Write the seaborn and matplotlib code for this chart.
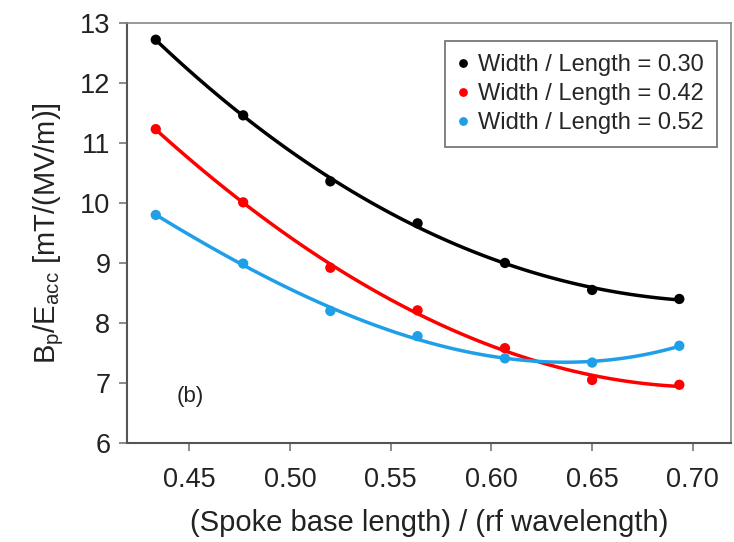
import numpy as np
import pandas as pd
import matplotlib
matplotlib.use("Agg")
import matplotlib.pyplot as plt
import seaborn as sns

# Spoke base length / rf wavelength
ratio = [0.4333, 0.4767, 0.5200, 0.5633, 0.6067, 0.6500, 0.6933]
# Bp/Eacc for each width/length ratio
bp_030 = [12.72, 11.46, 10.36, 9.66, 9.00, 8.55, 8.40]
bp_042 = [11.23, 10.01, 8.92, 8.21, 7.58, 7.05, 6.97]
bp_052 = [9.80, 8.99, 8.20, 7.78, 7.41, 7.34, 7.62]
labels = ["Width / Length = 0.30", "Width / Length = 0.42", "Width / Length = 0.52"]
colors = ["#000000", "#ff0000", "#1e9fe8"]

df = pd.DataFrame({
    "ratio": ratio * 3,
    "bp": bp_030 + bp_042 + bp_052,
    "series": [labels[0]] * 7 + [labels[1]] * 7 + [labels[2]] * 7,
})

sns.set_style("white")
plt.rcParams["font.family"] = ["Liberation Sans", "DejaVu Sans"]

fig = plt.figure(figsize=(7.34, 5.42), dpi=100)
ax = fig.add_axes([0.173, 0.1827, 0.823, 0.775])

# fitted curves
for lab, col in zip(labels, colors):
    sub = df[df["series"] == lab]
    sns.regplot(data=sub, x="ratio", y="bp", order=3, ci=None, scatter=False,
                color=col, line_kws={"lw": 2.5}, ax=ax)

sns.scatterplot(data=df, x="ratio", y="bp", hue="series", palette=colors,
                s=55, edgecolor="none", zorder=3, ax=ax)

ax.set_xlim(0.419, 0.719)
ax.set_ylim(6, 13)
ax.set_xticks([0.45, 0.50, 0.55, 0.60, 0.65, 0.70])
ax.set_xticklabels(["0.45", "0.50", "0.55", "0.60", "0.65", "0.70"])
ax.set_yticks(range(6, 14))

for side in ["left", "bottom"]:
    ax.spines[side].set_color("#555555")
    ax.spines[side].set_linewidth(1.5)
for side in ["top", "right"]:
    ax.spines[side].set_color("#888888")
    ax.spines[side].set_linewidth(1.2)

ax.tick_params(axis="both", direction="out", length=6, width=1.2, color="#777777",
               labelsize=19.5, labelcolor="#222222", pad=6)
ax.tick_params(axis="x", pad=11)
ax.tick_params(left=True, bottom=True)

ax.set_xlabel("(Spoke base length) / (rf wavelength)", fontsize=21, color="#222222", labelpad=12)
ax.set_ylabel(r"$\mathregular{B_p/E_{acc}}$ [mT/(MV/m)]", fontsize=21, color="#222222", labelpad=10)

ax.text(0.4505, 6.77, "(b)", fontsize=16, color="#222222", ha="center", va="center")

leg = ax.legend(loc="upper right", bbox_to_anchor=(0.977, 0.957), fontsize=17,
                frameon=True, fancybox=False, edgecolor="#555555",
                handletextpad=0.45, borderpad=0.55, labelspacing=0.3,
                handlelength=0.4, markerscale=0.85, borderaxespad=0, title=None)
leg.get_frame().set_linewidth(1.3)

fig.savefig("out.png", dpi=100)
